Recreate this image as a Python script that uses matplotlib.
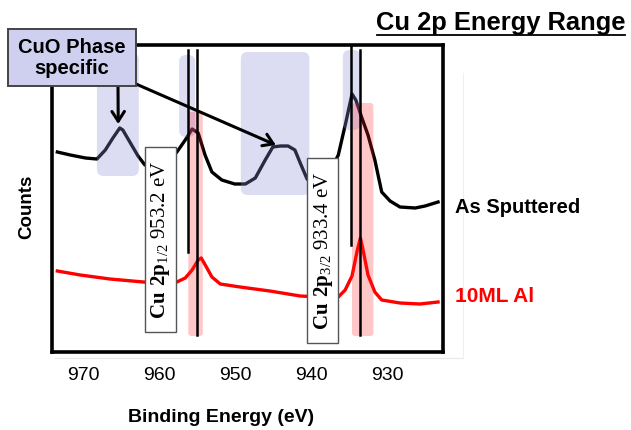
import numpy as np
import matplotlib
matplotlib.use("Agg")
import matplotlib.pyplot as plt
from matplotlib.patches import FancyBboxPatch, Rectangle
from matplotlib.lines import Line2D

plt.rcParams['font.family'] = ['Liberation Sans', 'DejaVu Sans']
plt.rcParams['mathtext.fontset'] = 'custom'
plt.rcParams['mathtext.rm'] = 'Liberation Serif'
plt.rcParams['mathtext.bf'] = 'Liberation Serif:bold'

# spectra (binding energy in eV, counts in arb. units)
sput_e = [973.4, 971.7, 969.7, 968.2, 967.1, 966.1, 965.2, 964.8, 963.8, 962.8,
          961.9, 959.9, 958.6, 957.7, 956.6, 955.7, 954.9, 954.0, 953.1, 951.8,
          950.1, 948.7, 947.4, 946.1, 945.1, 944.1, 943.1, 942.2, 941.5, 940.6,
          939.2, 937.8, 936.5, 935.5, 934.7, 934.2, 933.4, 932.6, 931.7, 930.8,
          929.7, 928.4, 926.4, 925.1, 923.4]
sput_c = [200, 197, 194, 193, 202, 214, 224, 222, 209, 196,
          187, 186, 192, 200, 212, 223, 219, 197, 180, 172,
          168, 168, 174, 192, 205, 206, 206, 202, 189, 173,
          164, 177, 197, 230, 258, 252, 234, 217, 192, 160,
          151, 145, 144, 146, 150]

al_e = [973.4, 970.4, 966.5, 962.1, 959.9, 957.7, 956.6, 955.7, 954.9, 954.5,
        953.9, 953.1, 952.0, 949.4, 945.5, 941.5, 938.9, 936.5, 935.6, 934.7,
        934.0, 933.6, 933.3, 932.6, 931.7, 930.8, 928.4, 925.8, 923.4]
al_c = [81, 77, 73, 70, 69, 70, 74, 82, 92, 94,
        86, 75, 68, 65, 61, 56, 55, 55, 62, 76,
        102, 114, 104, 77, 60, 52, 49, 48, 50]

xticks = [970, 960, 950, 940, 930]

# reference lines: (energy, bottom, top)
ref_lines = [(956.3, 100, 302), (955.0, 17, 302), (934.8, 107, 307), (933.6, 17, 302)]
# red bands: (e_hi, e_lo, bottom, top)
red_bands = [(956.2, 954.3, 16, 240), (934.7, 931.9, 16, 249)]
# blue CuO bands
blue_bands = [(968.2, 962.7, 176, 299), (957.4, 955.3, 215, 297),
              (949.3, 940.3, 157, 300), (935.9, 933.6, 222, 302)]

W, H = 631, 430
fig = plt.figure(figsize=(W / 100, H / 100), dpi=100)


def fp(x, y):
    return (x / W, 1 - y / H)


ax = fig.add_axes([52 / W, 1 - 352 / H, (443 - 52) / W, (352 - 45) / H])
ax.set_xlim(974.1, 922.75)
ax.set_ylim(0, 307)
ax.set_yticks([])
ax.set_xticks(xticks)
ax.tick_params(axis='x', length=0, pad=11, labelsize=14)
for s in ax.spines.values():
    s.set_linewidth(2.6)
    s.set_color('black')

ax.plot(sput_e, sput_c, color='black', lw=2.4, zorder=2)
ax.plot(al_e, al_c, color='#ff0000', lw=2.4, zorder=2)

aspect = 7.617  # counts per eV for one pixel each way
for e1, e2, b, t in blue_bands:
    p = FancyBboxPatch((e2, b), e1 - e2, t - b,
                       boxstyle="round,pad=0,rounding_size=0.9",
                       mutation_aspect=aspect,
                       facecolor=(0.55, 0.55, 0.85), alpha=0.3, lw=0, zorder=3)
    ax.add_patch(p)
for e1, e2, b, t in red_bands:
    p = FancyBboxPatch((e2, b), e1 - e2, t - b,
                       boxstyle="round,pad=0,rounding_size=0.4",
                       mutation_aspect=aspect,
                       facecolor='#ff2020', alpha=0.25, lw=0, zorder=3)
    ax.add_patch(p)
for e, b, t in ref_lines:
    ax.plot([e, e], [b, t], color='black', lw=1.8, zorder=4)

# peak label boxes
for cx, y0, y1, txt in [(160, 147, 332, r"$\mathbf{Cu\ 2p}_{1/2}$ 953.2 eV"),
                        (322.5, 158, 343, r"$\mathbf{Cu\ 2p}_{3/2}$ 933.4 eV")]:
    r = Rectangle(fp(cx - 15.5, y1), 31 / W, (y1 - y0) / H, transform=fig.transFigure,
                  facecolor='white', edgecolor='#555555', lw=1.0, zorder=5)
    fig.add_artist(r)
    fig.text(*fp(cx + 1, (y0 + y1) / 2), txt, rotation=90, ha='center', va='center',
             fontsize=15, family='Liberation Serif', zorder=6)

# faint chart frame lines
fig.add_artist(Line2D([55 / W, 463 / W], [1 - 358 / H] * 2, color='#e8e8e8', lw=0.8, zorder=0))
fig.add_artist(Line2D([463 / W] * 2, [1 - 73 / H, 1 - 358 / H], color='#efefef', lw=0.8, zorder=0))

# CuO phase callout
box = Rectangle(fp(8, 86), 128 / W, 57 / H, transform=fig.transFigure,
                facecolor='#cfcff0', edgecolor='#444444', lw=1.4, zorder=7)
fig.add_artist(box)
fig.text(*fp(72, 58), "CuO Phase\nspecific", ha='center', va='center',
         fontsize=14.5, fontweight='bold', linespacing=1.1, zorder=8)
arrow = dict(arrowstyle='->,head_length=0.7,head_width=0.45', color='black', lw=2.2,
             shrinkA=0, shrinkB=0)
ax.annotate("", xy=(965.4, 228), xycoords='data', xytext=(118, H - 86),
            textcoords='figure pixels', arrowprops=arrow, zorder=8, annotation_clip=False)
ax.annotate("", xy=(944.7, 207), xycoords='data', xytext=(136, H - 84),
            textcoords='figure pixels', arrowprops=arrow, zorder=8, annotation_clip=False)

# titles and labels
fig.text(*fp(501, 23), "Cu 2p Energy Range", ha='center', va='center',
         fontsize=18.4, fontweight='bold')
fig.add_artist(Line2D([377 / W, 625 / W], [1 - 35 / H] * 2, color='black', lw=1.3))
fig.text(*fp(455, 207), "As Sputtered", ha='left', va='center', fontsize=14.5, fontweight='bold')
fig.text(*fp(455, 297), "10ML Al", ha='left', va='center', fontsize=15,
         fontweight='bold', color='#ff0000')
fig.text(*fp(27, 207), "Counts", rotation=90, ha='center', va='center',
         fontsize=13.5, fontweight='bold')
fig.text(*fp(221, 417), "Binding Energy (eV)", ha='center', va='center',
         fontsize=14, fontweight='bold')

fig.savefig("out.png", dpi=100)
